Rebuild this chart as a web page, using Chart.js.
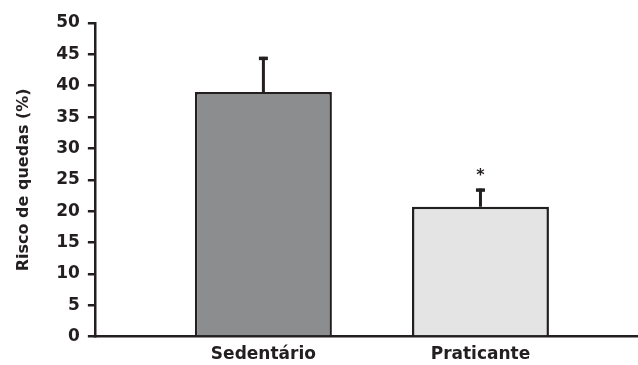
<!DOCTYPE html>
<html>
<head>
<meta charset="utf-8">
<script src="https://cdn.jsdelivr.net/npm/chart.js@4/dist/chart.umd.min.js"></script>
<style>
  html, body { margin: 0; padding: 0; background: #fff; }
  #wrap { width: 638px; height: 365px; }
</style>
</head>
<body>
<div id="wrap"><canvas id="chart"></canvas></div>
<script>
// --- Data ---
const categories = ["Sedentário", "Praticante"];
const riskValues = [39.0, 20.7];
const errorValues = [5.6, 2.9];   // upper error bar
const marks = ["", "*"];          // significance marks
const yTicks = [0, 5, 10, 15, 20, 25, 30, 35, 40, 45, 50];

const ink = "#231f20";
const fills = ["#8c8d8f", "#e4e4e4"];

const datasets = [{
  label: "Risco de quedas",
  data: categories.map((c, i) => ({ x: i + 1, y: riskValues[i] })),
  backgroundColor: fills,
  borderColor: ink,
  borderWidth: 2.5,
  borderSkipped: "bottom",
  barPercentage: 0.631,
  categoryPercentage: 1
}];

// --- Error bars + asterisk ---
const errorBars = {
  id: "errorBars",
  afterDatasetsDraw(chart) {
    const ctx = chart.ctx;
    const y = chart.scales.y;
    const bars = chart.getDatasetMeta(0).data;
    ctx.save();
    bars.forEach((bar, i) => {
      const top = y.getPixelForValue(riskValues[i] + errorValues[i]);
      ctx.strokeStyle = ink;
      ctx.lineWidth = 3;
      ctx.beginPath();
      ctx.moveTo(bar.x, bar.y);
      ctx.lineTo(bar.x, top);
      ctx.stroke();
      ctx.lineWidth = 3.5;
      ctx.beginPath();
      ctx.moveTo(bar.x - 4.5, top + 1.5);
      ctx.lineTo(bar.x + 4.5, top + 1.5);
      ctx.stroke();
      if (marks[i]) {
        ctx.fillStyle = ink;
        ctx.font = "bold 16px 'DejaVu Sans', sans-serif";
        ctx.textAlign = "center";
        ctx.textBaseline = "middle";
        ctx.fillText(marks[i], bar.x, top - 13);
      }
    });
    ctx.restore();
  }
};

const tickFont = { family: "'DejaVu Sans', sans-serif", size: 17, weight: "bold" };

new Chart(document.getElementById("chart"), {
  type: "bar",
  data: { datasets: datasets },
  options: {
    responsive: true,
    maintainAspectRatio: false,
    animation: false,
    layout: { padding: { top: 23, right: 0, left: 14, bottom: -8 } },
    plugins: { legend: { display: false }, tooltip: { enabled: false } },
    scales: {
      x: {
        type: "linear",
        offset: false,
        min: 0.2235,
        max: 2.7258,
        afterBuildTicks: (axis) => {
          axis.ticks = categories.map((c, i) => ({ value: i + 1 }));
        },
        ticks: {
          color: ink,
          font: tickFont,
          padding: 8,
          maxRotation: 0,
          callback: (v) => categories[v - 1] || ""
        },
        grid: { display: false, drawTicks: false },
        border: { color: ink, width: 2.5 }
      },
      y: {
        min: 0,
        max: 50,
        afterBuildTicks: (axis) => {
          axis.ticks = yTicks.map(v => ({ value: v }));
        },
        ticks: { color: ink, font: tickFont, padding: 8 },
        grid: { drawOnChartArea: false, color: ink, lineWidth: 2.5, tickLength: 7 },
        border: { color: ink, width: 2.5 },
        title: {
          display: true,
          text: "Risco de quedas (%)",
          color: ink,
          font: { family: "'DejaVu Sans', sans-serif", size: 16, weight: "bold" },
          padding: { top: 0, bottom: 15 }
        }
      }
    }
  },
  plugins: [errorBars]
});
</script>
</body>
</html>
